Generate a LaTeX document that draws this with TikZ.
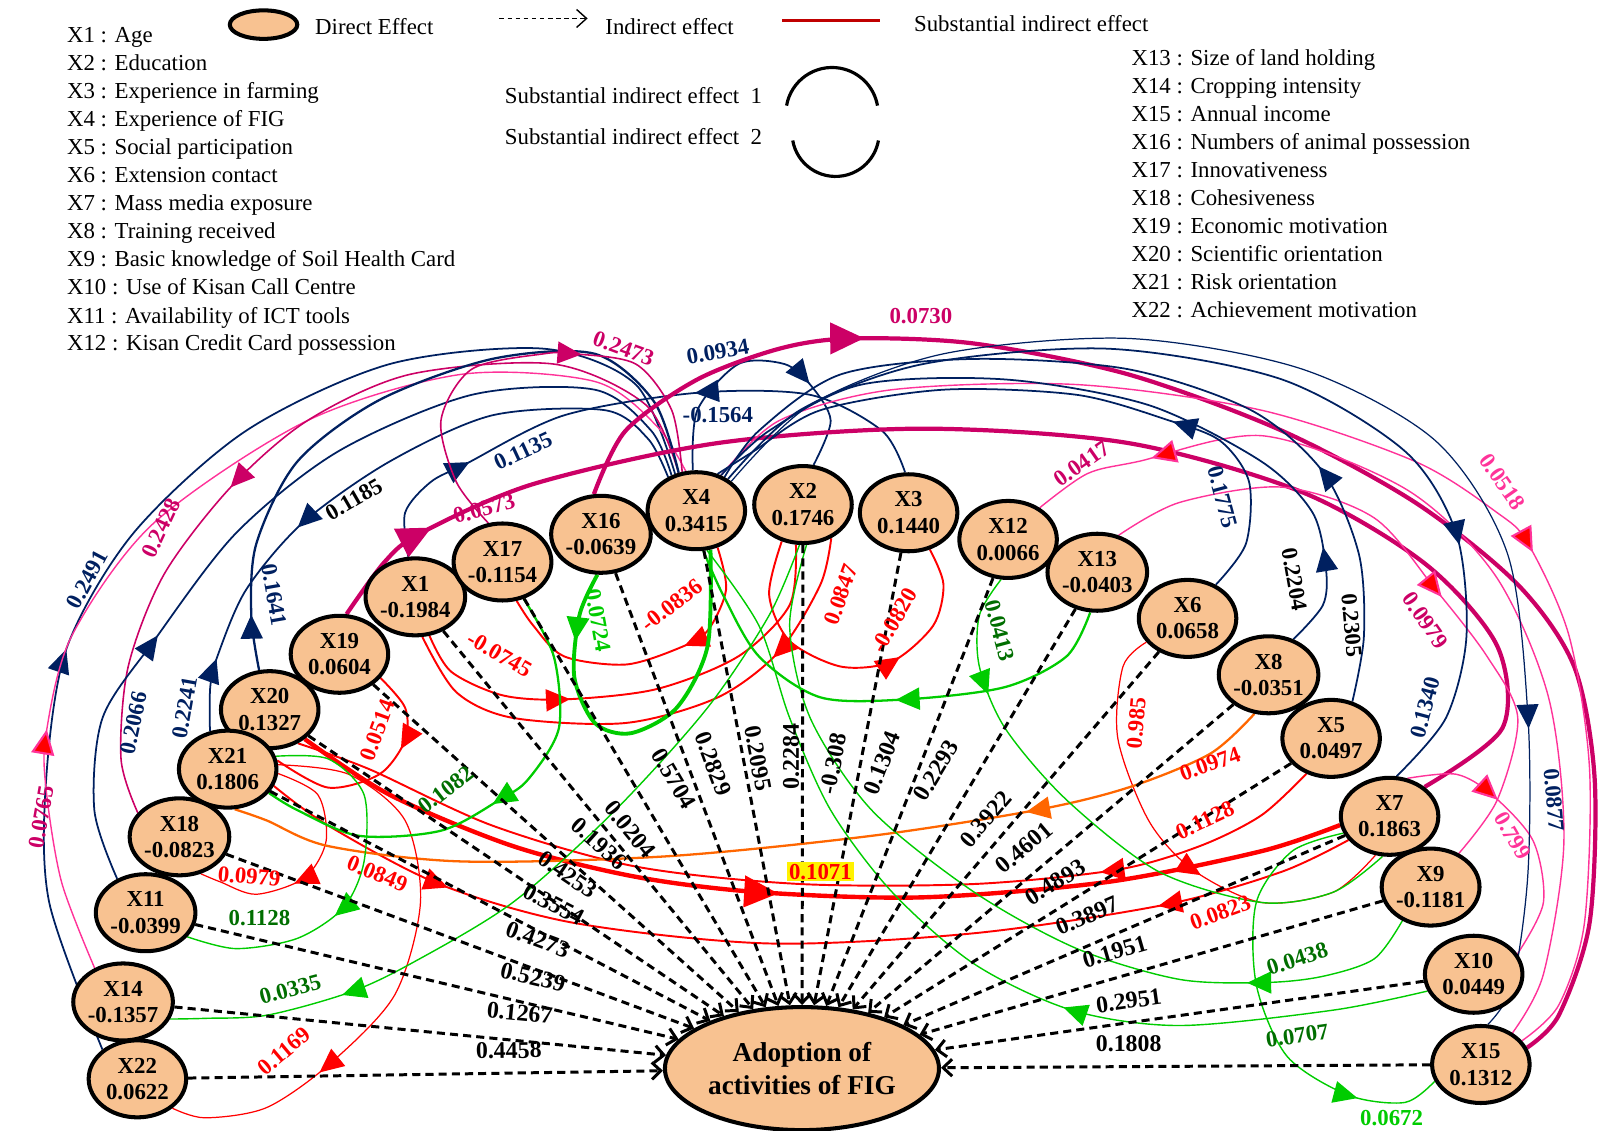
\documentclass[tikz,border=0pt]{standalone}
\usepackage{fontspec}
\setmainfont{Liberation Serif}
\usetikzlibrary{shapes.geometric, arrows.meta, decorations.markings}

\definecolor{navyline}{RGB}{0,32,96}
\definecolor{plum}{RGB}{204,0,102}
\definecolor{rose}{RGB}{255,51,153}
\definecolor{leaf}{RGB}{0,204,0}
\definecolor{darkleaf}{RGB}{0,110,0}
\definecolor{amber}{RGB}{255,102,0}
\definecolor{peach}{RGB}{248,194,145}
\definecolor{legendred}{RGB}{192,0,0}

\pgfdeclarelayer{back}
\pgfsetlayers{back,main}

\tikzset{
  headat/.style={postaction={decorate, decoration={markings,
      mark=at position #1 with {\arrow{Triangle[length=4.8mm,width=4.4mm]}}}}},
  backheadat/.style={postaction={decorate, decoration={markings,
      mark=at position #1 with {\arrowreversed{Triangle[length=4.8mm,width=4.4mm]}}}}},
  bigheadat/.style={postaction={decorate, decoration={markings,
      mark=at position #1 with {\arrow{Triangle[length=6.8mm,width=6.2mm]}}}}},
  roseheadat/.style={postaction={decorate, decoration={markings,
      mark=at position #1 with {\arrow{Triangle[length=5mm,width=4.6mm,fill=red,line width=1.2pt]}}}}},
}

\begin{document}
\begin{tikzpicture}[x=0.02051cm, y=-0.02051cm,
    var/.style={ellipse, draw=black, line width=2.3pt, fill=peach,
                minimum width=1.95cm, minimum height=1.54cm, inner sep=0pt,
                align=center, font=\fontsize{13}{15}\selectfont\bfseries},
    target/.style={var, minimum width=5.48cm, minimum height=2.46cm,
                   font=\fontsize{15.5}{19}\selectfont\bfseries},
    keytext/.style={anchor=base west, inner sep=0pt, font=\fontsize{13}{15}\selectfont},
    lab/.style={inner sep=1pt, font=\fontsize{13}{15}\selectfont\bfseries},
    dlab/.style={lab, font=\fontsize{13.6}{15}\selectfont\bfseries, sloped, above=#1},
    direct/.style={line width=1.7pt, dash pattern=on 4.6pt off 2.9pt,
                   -{Straight Barb[length=1.8mm,width=3.4mm]}},
    navyline/.style={draw=navyline, line width=1pt},
    plumline/.style={draw=plum, line width=0.9pt},
    plumthick/.style={draw=plum, line width=2.4pt},
    roseline/.style={draw=rose, line width=0.8pt},
    redline/.style={draw=red, line width=1.1pt},
    redthin/.style={draw=red, line width=0.7pt},
    redthick/.style={draw=red, line width=2.5pt},
    leafline/.style={draw=leaf, line width=1.3pt},
    leafthin/.style={draw=leaf, line width=0.8pt},
    leafthick/.style={draw=leaf, line width=2.2pt},
    amberline/.style={draw=amber, line width=1.3pt}]

    \useasboundingbox (0,0) rectangle (1568,1102);

    % Legend of variables
    \node[keytext] (k1)  at (65,41)  {X1 : Age};
    \node[keytext] (k2)  at (65,69)  {X2 : Education};
    \node[keytext] (k3)  at (65,96)  {X3 : Experience in farming};
    \node[keytext] (k4)  at (65,123) {X4 : Experience of FIG};
    \node[keytext] (k5)  at (65,151) {X5 : Social participation};
    \node[keytext] (k6)  at (65,178) {X6 : Extension contact};
    \node[keytext] (k7)  at (65,205) {X7 : Mass media exposure};
    \node[keytext] (k8)  at (65,233) {X8 : Training received};
    \node[keytext] (k9)  at (65,260) {X9 : Basic knowledge of Soil Health Card};
    \node[keytext] (k10) at (65,287) {X10 : Use of Kisan Call Centre};
    \node[keytext] (k11) at (65,315) {X11 : Availability of ICT tools};
    \node[keytext] (k12) at (65,342) {X12 : Kisan Credit Card possession};
    \node[keytext] (k13) at (1103,64)  {X13 : Size of land holding};
    \node[keytext] (k14) at (1103,91)  {X14 : Cropping intensity};
    \node[keytext] (k15) at (1103,118) {X15 : Annual income};
    \node[keytext] (k16) at (1103,146) {X16 : Numbers of animal possession};
    \node[keytext] (k17) at (1103,173) {X17 : Innovativeness};
    \node[keytext] (k18) at (1103,200) {X18 : Cohesiveness};
    \node[keytext] (k19) at (1103,228) {X19 : Economic motivation};
    \node[keytext] (k20) at (1103,255) {X20 : Scientific orientation};
    \node[keytext] (k21) at (1103,282) {X21 : Risk orientation};
    \node[keytext] (k22) at (1103,310) {X22 : Achievement motivation};

    % Legend of line kinds
    \node[var, minimum width=1.35cm, minimum height=0.57cm] (keyoval) at (257,24) {};
    \node[keytext] (keydirect) at (307,34) {Direct Effect};
    \coordinate (keydashA) at (487,18);
    \coordinate (keydashB) at (573,18);
    \draw[line width=0.8pt, dash pattern=on 2.6pt off 2pt,
          -{Straight Barb[length=2mm,width=3.6mm]}] (keydashA) -- (keydashB);
    \node[keytext] (keyindirect) at (590,34) {Indirect effect};
    \coordinate (keyredA) at (763,20);
    \coordinate (keyredB) at (858,20);
    \draw[legendred, line width=2.2pt] (keyredA) -- (keyredB);
    \node[keytext] (keysubst) at (891,31) {Substantial indirect effect};
    \node[keytext] (keysubA) at (492,101) {Substantial indirect effect\ \ 1};
    \node[keytext] (keysubB) at (492,141) {Substantial indirect effect\ \ 2};
    \coordinate (keyarcA) at (767,103);
    \coordinate (keyarcB) at (773,137);
    \draw[line width=1.8pt] (keyarcA) arc[start angle=170, end angle=10, radius=0.923cm];
    \draw[line width=1.8pt] (keyarcB) arc[start angle=190, end angle=350, radius=0.87cm];

    % Add the variables
    \node[target] (cen) at (782,1042) {Adoption of\\activities of FIG};
    \node[var] (x1)  at (405,582)  {X1\\-0.1984};
    \node[var] (x17) at (490,548)  {X17\\-0.1154};
    \node[var] (x16) at (586,521)  {X16\\-0.0639};
    \node[var] (x4)  at (679,498)  {X4\\0.3415};
    \node[var] (x2)  at (783,492)  {X2\\0.1746};
    \node[var] (x3)  at (886,500)  {X3\\0.1440};
    \node[var] (x12) at (983,526)  {X12\\0.0066};
    \node[var] (x13) at (1070,558) {X13\\-0.0403};
    \node[var] (x6)  at (1158,603) {X6\\0.0658};
    \node[var] (x8)  at (1237,658) {X8\\-0.0351};
    \node[var] (x5)  at (1298,720) {X5\\0.0497};
    \node[var] (x7)  at (1355,796) {X7\\0.1863};
    \node[var] (x9)  at (1395,865) {X9\\-0.1181};
    \node[var] (x10) at (1437,950) {X10\\0.0449};
    \node[var] (x15) at (1444,1038) {X15\\0.1312};
    \node[var] (x19) at (331,638)  {X19\\0.0604};
    \node[var] (x20) at (263,692)  {X20\\0.1327};
    \node[var] (x21) at (222,750)  {X21\\0.1806};
    \node[var] (x18) at (175,816)  {X18\\-0.0823};
    \node[var] (x11) at (142,890)  {X11\\-0.0399};
    \node[var] (x14) at (120,977)  {X14\\-0.1357};
    \node[var] (x22) at (134,1052) {X22\\0.0622};

    \begin{pgfonlayer}{back}
    % Arcs over the top, left half
    \draw[navyline, headat=0.34] plot[smooth] coordinates {(x22.140) (48,880) (45,760) (65,632) (130,520) (240,420) (380,355) (530,340) (620,375) (x4.120)};
    \draw[roseline, roseheadat=0.225] plot[smooth] coordinates {(x14.130) (60,860) (45,770) (45,715) (70,620) (150,510) (300,410) (450,365) (580,372) (640,415) (x4.105)};
    \draw[plumline, headat=0.6] plot[smooth] coordinates {(x4.115) (630,395) (540,355) (400,365) (300,410) (225,475) (160,560) (125,650) (118,740) (x18.150)};
    \draw[navyline, headat=0.29] plot[smooth] coordinates {(x11.130) (92,790) (100,700) (150,625) (230,520) (330,440) (460,385) (580,380) (635,420) (x4.125)};
    \draw[navyline, headat=0.11, backheadat=0.345] plot[smooth] coordinates {(x21.115) (205,670) (212,640) (240,575) (295,510) (380,450) (480,405) (590,400) (632,428) (x4.130)};
    \draw[navyline, line width=1.3pt, headat=0.08] plot[smooth] coordinates {(x20.105) (245,600) (250,530) (290,450) (370,390) (480,350) (580,345) (638,392) (x4.115)};
    \draw[navyline, headat=0.21, backheadat=0.6] plot[smooth] coordinates {(x1.100) (395,500) (420,470) (455,452) (550,405) (680,383) (790,385) (860,420) (x3.95)};
    \draw[navyline, headat=0.69] plot[smooth] coordinates {(x4.95) (680,400) (720,355) (765,355) (790,375) (810,410) (x2.75)};
    \draw[plumline, headat=0.62] plot[smooth] coordinates {(x17.110) (445,470) (430,410) (460,360) (530,345) (560,345) (620,355) (655,400) (x4.110)};
    \draw[plumthick, bigheadat=0.085] plot[smooth] coordinates {(x19.80) (375,548) (410,520) (520,472) (700,432) (900,418) (1100,432) (1270,480) (1390,550) (1460,630) (1465,710) (x7.40)};
    \draw[plumthick, bigheadat=0.215] plot[smooth] coordinates {(x16.100) (610,420) (680,370) (760,340) (830,330) (950,335) (1100,365) (1250,420) (1380,490) (1480,570) (1535,650) (1555,760) (1550,900) (1520,990) (x15.20)};

    % Arcs over the top, right half
    \draw[roseline, roseheadat=0.63] plot[smooth] coordinates {(x4.55) (760,410) (870,380) (1050,375) (1230,400) (1380,450) (1460,500) (1490,530) (1530,620) (1550,750) (1545,900) (1520,980) (x15.30)};
    \draw[roseline, roseheadat=0.875] plot[smooth] coordinates {(x15.45) (1505,950) (1525,820) (1510,680) (1458,561) (1371,477) (1232,425) (1110,450) (1060,462) (x12.45)};
    \draw[roseline, roseheadat=0.56] plot[smooth] coordinates {(x13.60) (1150,490) (1250,475) (1340,505) (1400,575) (1450,640) (1480,700) (1460,780) (x9.50)};
    \draw[roseline, roseheadat=0.36] plot[smooth] coordinates {(x7.65) (1420,755) (1455,775) (1495,820) (1505,880) (x10.25)};
    \draw[navyline, headat=0.31] plot[smooth] coordinates {(x6.50) (1215,530) (1218,470) (1190,430) (1140,410) (1050,385) (920,380) (800,400) (735,440) (x4.60)};
    \draw[navyline, headat=0.13] plot[smooth] coordinates {(x8.55) (1290,590) (1293,555) (1280,500) (1230,450) (1120,395) (980,370) (840,375) (750,420) (x4.55)};
    \draw[navyline, headat=0.27] plot[smooth] coordinates {(x5.60) (1330,620) (1325,540) (1290,460) (1220,400) (1100,360) (950,350) (820,365) (740,420) (x4.50)};
    \draw[navyline, headat=0.77] plot[smooth] coordinates {(x4.45) (780,400) (900,355) (1080,340) (1250,370) (1370,440) (1420,520) (1430,620) (1410,700) (x7.80)};
    \draw[navyline, line width=0.7pt, headat=0.78] plot[smooth] coordinates {(x4.40) (790,395) (920,345) (1100,330) (1270,360) (1400,430) (1470,540) (1490,700) (1490,850) (1475,960) (x15.80)};

    % Loops below the ring
    \draw[redline, headat=0.37] plot[smooth] coordinates {(x4.-60) (708,575) (690,615) (662,632) (610,648) (550,640) (520,610) (x17.-70)};
    \draw[redline, headat=0.35] plot[smooth] coordinates {(x1.-70) (440,655) (490,678) (550,682) (640,672) (720,640) (770,590) (x2.-100)};
    \draw[redline, headat=0.25] plot[smooth] coordinates {(x2.-50) (800,570) (760,635) (700,680) (610,705) (500,700) (445,675) (x1.-80)};
    \draw[redline, headat=0.64] plot[smooth] coordinates {(x2.-120) (750,580) (770,625) (820,650) (870,645) (910,610) (920,570) (x3.-60)};
    \draw[redline, headat=0.36] plot[smooth] coordinates {(x19.-30) (395,690) (395,722) (370,755) (320,768) (x21.10)};
    \draw[redthin, headat=0.6] plot[smooth] coordinates {(x21.-5) (310,775) (318,820) (297,856) (250,872) (215,860) (x18.-60)};
    \draw[redline, headat=0.18, backheadat=0.82] plot[smooth] coordinates {(x21.-20) (320,805) (428,862) (560,900) (750,920) (950,910) (1137,882) (1250,850) (x7.-150)};
    \draw[redthick, bigheadat=0.47] plot[smooth] coordinates {(x20.-40) (380,775) (500,825) (620,855) (740,870) (900,875) (1080,860) (1230,830) (x7.-170)};
    \draw[redline, headat=0.22] plot[smooth] coordinates {(x5.-125) (1230,795) (1170,825) (1090,848) (950,862) (780,862) (620,845) (480,805) (360,750) (x20.-50)};
    \draw[redthin, headat=0.58] plot[smooth] coordinates {(x6.-150) (1095,650) (1090,720) (1120,800) (1163,848) (1230,880) (1300,870) (x7.-110)};
    \draw[amberline, headat=0.24] plot[smooth] coordinates {(x8.-110) (1180,735) (1100,768) (1010,790) (850,815) (650,835) (450,840) (320,825) (260,800) (x21.-80)};
    \draw[redthin, headat=0.73] plot[smooth] coordinates {(x21.5) (340,755) (395,800) (410,880) (385,970) (322,1037) (260,1080) (200,1090) (x22.-40)};
    \draw[leafthick, headat=0.17] plot[smooth] coordinates {(x16.-95) (565,600) (560,660) (580,705) (615,715) (660,690) (690,630) (x4.-70)};
    \draw[leafline, headat=0.5] plot[smooth] coordinates {(x17.-60) (540,640) (545,710) (515,760) (487,780) (430,810) (350,815) (290,790) (x21.-30)};
    \draw[leafthin, headat=0.6] plot[smooth] coordinates {(x21.15) (320,740) (355,775) (355,840) (335,885) (290,915) (230,925) (x11.-30)};
    \draw[leafthin, headat=0.79] plot[smooth] coordinates {(x2.-95) (750,600) (690,690) (600,790) (500,880) (400,940) (340,968) (260,990) (200,993) (x14.-20)};
    \draw[leafthin, headat=0.2] plot[smooth] coordinates {(x12.-100) (955,600) (955,650) (980,710) (1040,780) (1130,850) (1230,880) (1300,870) (x7.-100)};
    \draw[leafline, headat=0.46] plot[smooth] coordinates {(x13.-100) (1040,640) (980,670) (883,682) (800,680) (740,640) (705,580) (x4.-80)};
    \draw[leafthin, headat=0.2] plot[smooth] coordinates {(x9.-130) (1340,935) (1290,952) (1235,958) (1150,955) (1050,925) (950,870) (850,790) (790,700) (770,610) (x2.-85)};
    \draw[leafthin, headat=0.38] plot[smooth] coordinates {(x10.-160) (1300,985) (1150,1000) (1045,985) (950,940) (870,870) (810,790) (770,700) (740,610) (x4.-75)};
    \draw[leafthin, headat=0.81] plot[smooth] coordinates {(x7.-160) (1260,830) (1225,880) (1225,960) (1255,1030) (1315,1068) (1370,1075) (x15.-160)};

    % Direct effects
    \draw[direct]
        (x22) edge node[dlab=6.4pt,  pos=.676] (d22) {0.4458} (cen)
        (x14) edge node[dlab=9.3pt,  pos=.697] (d14) {0.1267} (cen)
        (x11) edge node[dlab=8.8pt,  pos=.686] (d11) {0.5239} (cen)
        (x18) edge node[dlab=9.9pt,  pos=.644] (d18) {0.4273} (cen)
        (x21) edge node[dlab=11.1pt, pos=.612] (d21) {0.3554} (cen)
        (x20) edge node[dlab=10.5pt, pos=.584] (d20) {0.4253} (cen)
        (x19) edge node[dlab=11.7pt, pos=.559] (d19) {0.1936} (cen)
        (x1)  edge node[dlab=4.1pt,  pos=.556] (d1)  {0.0204} (cen)
        (x17) edge node[dlab=14.6pt, pos=.486] (d17) {0.5704} (cen)
        (x16) edge node[dlab=7.2pt,  pos=.46]  (d16) {0.2829} (cen)
        (x4)  edge node[dlab=1.8pt,  pos=.462] (d4)  {0.2095} (cen)
        (x2)  edge node[dlab=0pt,    pos=.46]  (d2)  {0.2284} (cen)
        (x3)  edge node[dlab=8.6pt,  pos=.477] (d3)  {-0.308} (cen)
        (x12) edge node[dlab=14.2pt, pos=.463] (d12) {0.1304} (cen)
        (x13) edge node[dlab=14.7pt, pos=.453] (d13) {0.2293} (cen)
        (x6)  edge node[dlab=6.5pt,  pos=.509] (d6)  {0.3922} (cen)
        (x8)  edge node[dlab=8.1pt,  pos=.528] (d8)  {0.4601} (cen)
        (x5)  edge node[dlab=7.2pt,  pos=.548] (d5)  {0.4893} (cen)
        (x7)  edge node[dlab=9.5pt,  pos=.559] (d7)  {0.3897} (cen)
        (x9)  edge node[dlab=8.1pt,  pos=.563] (d9)  {0.1951} (cen)
        (x10) edge node[dlab=5.9pt,  pos=.597] (d10) {0.2951} (cen)
        (x15) edge node[dlab=6.4pt,  pos=.616] (d15) {0.1808} (cen);
    \end{pgfonlayer}

    % Values on the curves
    \node[lab, text=navyline, rotate=62]  (w2491) at (85,565)   {0.2491};
    \node[lab, text=plum, rotate=80]      (w0765) at (40,797)   {0.0765};
    \node[lab, text=plum, rotate=65]      (w2428) at (157,515)  {0.2428};
    \node[lab, text=navyline, rotate=78]  (w2066) at (130,705)  {0.2066};
    \node[lab, text=navyline, rotate=80]  (w2241) at (180,690)  {0.2241};
    \node[lab, rotate=30]                 (w1185) at (345,487)  {0.1185};
    \node[lab, text=navyline, rotate=-80] (w1641) at (267,580)  {0.1641};
    \node[lab, text=navyline, rotate=25]  (w1135) at (510,440)  {0.1135};
    \node[lab, text=navyline]             (w1564) at (700,405)  {-0.1564};
    \node[lab, text=navyline, rotate=10]  (w0934) at (700,343)  {0.0934};
    \node[lab, text=plum, rotate=-20]     (w2473) at (608,340)  {0.2473};
    \node[lab, text=plum, rotate=15]      (w0573) at (472,496)  {0.0573};
    \node[lab, text=plum]                 (w0730) at (898,308)  {0.0730};
    \node[lab, text=rose, rotate=-55]     (w0518) at (1465,470) {0.0518};
    \node[lab, text=plum, rotate=35]      (w0417) at (1055,452) {0.0417};
    \node[lab, text=plum, rotate=-55]     (w0979b) at (1390,605) {0.0979};
    \node[lab, text=rose, rotate=-60]     (w0799) at (1475,815) {0.799};
    \node[lab, text=navyline, rotate=-75] (w1775) at (1192,485) {0.1775};
    \node[lab, rotate=-80]                (w2204) at (1262,565) {0.2204};
    \node[lab, rotate=-85]                (w2305) at (1318,610) {0.2305};
    \node[lab, text=navyline, rotate=75]  (w1340) at (1390,690) {0.1340};
    \node[lab, text=navyline, rotate=-85] (w0877) at (1515,780) {0.0877};
    \node[lab, text=red, rotate=38]       (w0836) at (655,590)  {-0.0836};
    \node[lab, text=red, rotate=-30]      (w0745) at (487,638)  {-0.0745};
    \node[lab, text=red, rotate=70]       (w0847) at (820,580)  {0.0847};
    \node[lab, text=red, rotate=60]       (w0820) at (872,605)  {-0.0820};
    \node[lab, text=red, rotate=70]       (w0514) at (368,712)  {0.0514};
    \node[lab, text=red, rotate=-5]       (w0979a) at (243,855) {0.0979};
    \node[lab, text=red, rotate=-22]      (w0849) at (368,852)  {0.0849};
    \node[lab, text=red, rotate=20]       (w0823) at (1190,890) {0.0823};
    \node[lab, text=red, fill=yellow]     (w1071) at (800,850)  {0.1071};
    \node[lab, text=red, rotate=25]       (w1128b) at (1175,800) {0.1128};
    \node[lab, text=red, rotate=85]       (w0985) at (1108,705) {0.985};
    \node[lab, text=red, rotate=20]       (w0974) at (1180,745) {0.0974};
    \node[lab, text=red, rotate=40]       (w1169) at (277,1025) {0.1169};
    \node[lab, text=leaf, rotate=-80]     (w0724) at (583,605)  {0.0724};
    \node[lab, text=darkleaf, rotate=38]  (w1082) at (435,770)  {0.1082};
    \node[lab, text=darkleaf]             (w1128a) at (253,895) {0.1128};
    \node[lab, text=darkleaf, rotate=15]  (w0335) at (283,965)  {0.0335};
    \node[lab, text=darkleaf, rotate=-75] (w0413) at (975,615)  {0.0413};
    \node[lab, text=darkleaf, rotate=18]  (w0438) at (1265,935) {0.0438};
    \node[lab, text=darkleaf, rotate=8]   (w0707) at (1265,1010) {0.0707};
    \node[lab, text=leaf]                 (w0672) at (1357,1090) {0.0672};
\end{tikzpicture}
\end{document}
